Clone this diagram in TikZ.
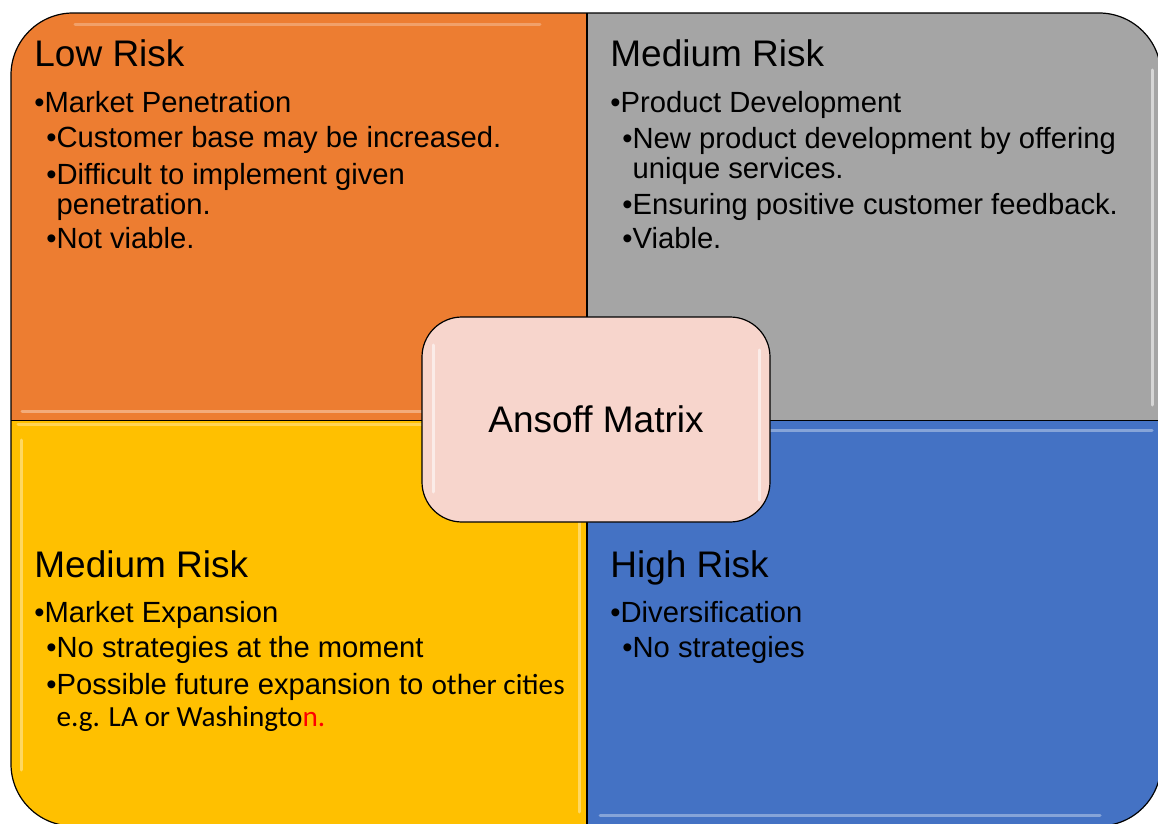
\documentclass[tikz,border=0pt]{standalone}
\usepackage{fontspec}
\setmainfont{Liberation Sans}
\newfontfamily\calibri{Carlito}
\usetikzlibrary{positioning}
\definecolor{lowrisk}{HTML}{ED7D31}
\definecolor{devrisk}{HTML}{A5A5A5}
\definecolor{exprisk}{HTML}{FFC000}
\definecolor{highrisk}{HTML}{4472C4}
\definecolor{hubfill}{HTML}{F7D5CC}
\tikzstyle{head}=[anchor=base west, inner sep=0pt, font=\fontsize{18.5}{22}\selectfont]
\tikzstyle{entry}=[anchor=base west, inner sep=0pt, align=left, font=\fontsize{14.6}{15}\selectfont]
\tikzstyle{edge}=[draw=black, line width=0.6pt]
\tikzstyle{gloss}=[line width=1.5pt, line cap=round, opacity=0.55]
\tikzstyle{hub}=[edge, fill=hubfill, rounded corners=20pt, minimum width=174pt, minimum height=102.5pt, font=\fontsize{18.5}{22}\selectfont]

\begin{document}
\begin{tikzpicture}[x=0.5pt,y=-0.5pt]
  \useasboundingbox (0,0) rectangle (1158,824);
  % quadrants
  \begin{scope}
    \clip[rounded corners=31pt] (11,13) rectangle (1161,826);
    \fill[lowrisk] (11,13) rectangle (587,420.5);
    \fill[devrisk] (587,13) rectangle (1161,420.5);
    \fill[exprisk] (11,420.5) rectangle (587,826);
    \fill[highrisk] (587,420.5) rectangle (1161,826);
    % highlights
    \draw[gloss, lowrisk!50!white] (75,25) -- (540,25);
    \draw[gloss, lowrisk!35!white] (22,411) -- (580,411);
    \draw[gloss, white] (1152,70) -- (1152,405);
    \draw[gloss, exprisk!40!white] (18,424) -- (580,424);
    \draw[gloss, exprisk!30!white] (21,440) -- (21,770);
    \draw[gloss, exprisk!30!white] (579,440) -- (579,812);
    \draw[gloss, highrisk!35!white] (592,430) -- (1152,430);
    \draw[gloss, highrisk!35!white] (600,815) -- (1100,815);
  \end{scope}
  \draw[edge, rounded corners=31pt] (11,13) rectangle (1161,826);
  \draw[edge] (587,13) -- (587,826);
  \draw[edge] (11,420.5) -- (1161,420.5);

  % low risk (multi-line entries sit on their last baseline)
  \node[head] (lowtitle) at (34,67) {Low Risk};
  \node[entry] (pen) at (34,113) {\textbullet Market Penetration};
  \node[entry] (pen1) at (46,148) {\textbullet Customer base may be increased.};
  \node[entry] (pen2) at (46,214) {\textbullet Difficult to implement given\\\phantom{\textbullet}penetration.};
  \node[entry] (pen3) at (46,249) {\textbullet Not viable.};

  % medium risk, product
  \node[head] (devtitle) at (610,67) {Medium Risk};
  \node[entry] (dev) at (610,113) {\textbullet Product Development};
  \node[entry] (dev1) at (622,178) {\textbullet New product development by offering\\\phantom{\textbullet}unique services.};
  \node[entry] (dev2) at (622,214) {\textbullet Ensuring positive customer feedback.};
  \node[entry] (dev3) at (622,249) {\textbullet Viable.};

  % medium risk, market
  \node[head] (exptitle) at (34,577) {Medium Risk};
  \node[entry] (exp) at (34,622) {\textbullet Market Expansion};
  \node[entry] (exp1) at (46,657) {\textbullet No strategies at the moment};
  \node[entry] (exp2) at (46,726) {\textbullet Possible future expansion to {\calibri other cities}\\[1pt]\phantom{\textbullet}{\calibri e.g. LA or Washingto\textcolor{red}{n.}}};

  % high risk
  \node[head] (divtitle) at (610,577) {High Risk};
  \node[entry] (div) at (610,622) {\textbullet Diversification};
  \node[entry] (div1) at (622,657) {\textbullet No strategies};

  % centre
  \node[hub] (hub) at (596,419.5) {Ansoff Matrix};
  \draw[gloss, white] (433,345) -- (433,492);
  \draw[gloss, white] (759,350) -- (759,500);
\end{tikzpicture}
\end{document}
